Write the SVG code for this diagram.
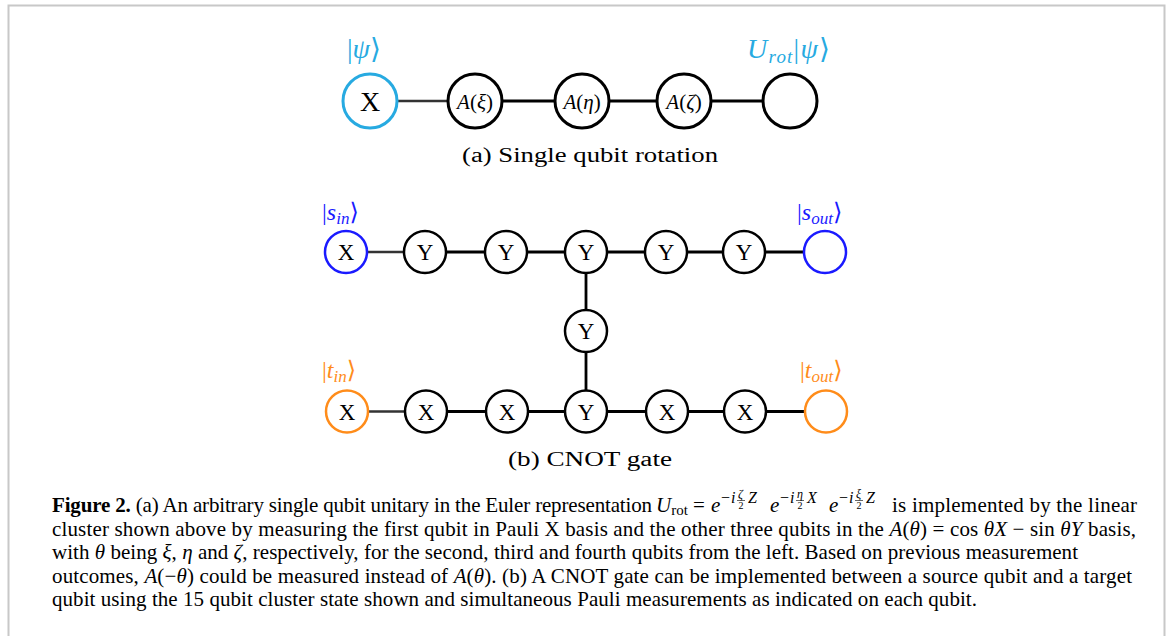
<svg xmlns="http://www.w3.org/2000/svg" width="1169" height="636" viewBox="0 0 1169 636">
<style>
text{font-family:"Liberation Serif","DejaVu Serif",serif;fill:#000}
.it{font-style:italic}
.na{fill:none;stroke:#000;stroke-width:3}
.nb{fill:none;stroke:#000;stroke-width:2.5}
.cyan{stroke:#27aae1}
.blue{stroke:#1a1aff}
.orange{stroke:#ff8c1a}
.lc{fill:#27aae1}
.lb{fill:#1a1aff}
.lo{fill:#ff8c1a}
.e{stroke:#000;stroke-width:3}
.e2{stroke:#000;stroke-width:2.8}
.th{stroke:#333;stroke-width:2.4}
.tl{font-size:28px;text-anchor:middle}
.tm{font-size:21px;text-anchor:middle}
.tb{font-size:23px;text-anchor:middle}
.lab{font-size:28px}
.labb{font-size:24px}
.cap{font-size:21px}
.sup{font-size:16px}
.sub{font-size:20px;text-anchor:middle}
.fb{stroke:#000;stroke-width:0.6}
</style>
<path d="M8.5,636 V5.5 H1164.5 V636" fill="none" stroke="#c8c8c8" stroke-width="2"/>

<g id="connectors">
<line class="th" x1="398" y1="101" x2="447" y2="101"/>
<line class="e" x1="503" y1="101" x2="554" y2="101"/>
<line class="e" x1="610" y1="101" x2="656" y2="101"/>
<line class="e" x1="712" y1="101" x2="762" y2="101"/>
<line class="th" x1="367" y1="252" x2="404" y2="252"/>
<line class="e2" x1="446" y1="252" x2="485" y2="252"/>
<line class="e2" x1="527" y1="252" x2="565" y2="252"/>
<line class="e2" x1="607" y1="252" x2="645" y2="252"/>
<line class="e2" x1="687" y1="252" x2="723" y2="252"/>
<line class="e2" x1="765" y1="252" x2="804" y2="252"/>
<line class="e2" x1="586" y1="273" x2="586" y2="310"/>
<line class="e2" x1="586" y1="352" x2="586" y2="390"/>
<line class="th" x1="368" y1="411.5" x2="405" y2="411.5"/>
<line class="e2" x1="447" y1="411.5" x2="486" y2="411.5"/>
<line class="e2" x1="528" y1="411.5" x2="565" y2="411.5"/>
<line class="e2" x1="607" y1="411.5" x2="646" y2="411.5"/>
<line class="e2" x1="688" y1="411.5" x2="724" y2="411.5"/>
<line class="e2" x1="766" y1="411.5" x2="805" y2="411.5"/>
</g>

<g id="a1"><circle class="na cyan" cx="370" cy="101" r="27"/><text class="tl" x="370" y="110.5">X</text>
<text class="lab lc" x="347" y="58">|<tspan class="it">ψ</tspan>⟩</text></g>
<g id="a2"><circle class="na" cx="475" cy="101" r="27"/><text class="tm" x="475" y="108.5"><tspan class="it">A</tspan>(<tspan class="it">ξ</tspan>)</text></g>
<g id="a3"><circle class="na" cx="582" cy="101" r="27"/><text class="tm" x="582" y="108.5"><tspan class="it">A</tspan>(<tspan class="it">η</tspan>)</text></g>
<g id="a4"><circle class="na" cx="684" cy="101" r="27"/><text class="tm" x="684" y="108.5"><tspan class="it">A</tspan>(<tspan class="it">ζ</tspan>)</text></g>
<g id="a5"><circle class="na" cx="790" cy="101" r="27"/>
<text class="lab lc" x="747" y="58" textLength="83" lengthAdjust="spacing"><tspan class="it">U</tspan><tspan class="it" font-size="19" dy="5">rot</tspan><tspan dy="-5">|</tspan><tspan class="it">ψ</tspan>⟩</text></g>
<text id="caption-a" class="sub" x="590" y="162" textLength="256" lengthAdjust="spacingAndGlyphs">(a) Single qubit rotation</text>

<g id="s1"><circle class="nb blue" cx="346" cy="252" r="21"/><text class="tb" x="346" y="260">X</text>
<text class="labb lb" x="322" y="220">|<tspan class="it">s</tspan><tspan class="it" font-size="17" dy="4">in</tspan><tspan dy="-4">⟩</tspan></text></g>
<g id="s2"><circle class="nb" cx="425" cy="252" r="21"/><text class="tb" x="425" y="260">Y</text></g>
<g id="s3"><circle class="nb" cx="506" cy="252" r="21"/><text class="tb" x="506" y="260">Y</text></g>
<g id="s4"><circle class="nb" cx="586" cy="252" r="21"/><text class="tb" x="586" y="260">Y</text></g>
<g id="s5"><circle class="nb" cx="666" cy="252" r="21"/><text class="tb" x="666" y="260">Y</text></g>
<g id="s6"><circle class="nb" cx="744" cy="252" r="21"/><text class="tb" x="744" y="260">Y</text></g>
<g id="s7"><circle class="nb blue" cx="825" cy="252" r="21"/>
<text class="labb lb" x="797" y="220">|<tspan class="it">s</tspan><tspan class="it" font-size="17" dy="4">out</tspan><tspan dy="-4">⟩</tspan></text></g>
<g id="m"><circle class="nb" cx="586" cy="331" r="21"/><text class="tb" x="586" y="339">Y</text></g>
<g id="t1"><circle class="nb orange" cx="347" cy="411.5" r="21"/><text class="tb" x="347" y="419.5">X</text>
<text class="labb lo" x="322" y="378">|<tspan class="it">t</tspan><tspan class="it" font-size="17" dy="4">in</tspan><tspan dy="-4">⟩</tspan></text></g>
<g id="t2"><circle class="nb" cx="426" cy="411.5" r="21"/><text class="tb" x="426" y="419.5">X</text></g>
<g id="t3"><circle class="nb" cx="507" cy="411.5" r="21"/><text class="tb" x="507" y="419.5">X</text></g>
<g id="t4"><circle class="nb" cx="586" cy="411.5" r="21"/><text class="tb" x="586" y="419.5">Y</text></g>
<g id="t5"><circle class="nb" cx="667" cy="411.5" r="21"/><text class="tb" x="667" y="419.5">X</text></g>
<g id="t6"><circle class="nb" cx="745" cy="411.5" r="21"/><text class="tb" x="745" y="419.5">X</text></g>
<g id="t7"><circle class="nb orange" cx="826" cy="411.5" r="21"/>
<text class="labb lo" x="800" y="378">|<tspan class="it">t</tspan><tspan class="it" font-size="17" dy="4">out</tspan><tspan dy="-4">⟩</tspan></text></g>
<text id="caption-b" class="sub" x="590" y="466" textLength="164" lengthAdjust="spacingAndGlyphs">(b) CNOT gate</text>

<g id="figure-caption">
<text class="cap" x="52" y="512" textLength="600" lengthAdjust="spacing"><tspan font-weight="bold">Figure 2.</tspan> (a) An arbitrary single qubit unitary in the Euler representation</text>
<text class="cap" x="656" y="512"><tspan class="it">U</tspan><tspan font-size="15" dy="3">rot</tspan><tspan dy="-3"> = </tspan></text>
<text class="cap it" x="711" y="512">e</text>
<text class="sup" x="721" y="503">−<tspan class="it" dx="1">i</tspan></text>
<text font-size="12" class="it" x="738" y="497.5">ζ</text><line class="fb" x1="737" y1="500.5" x2="745" y2="500.5"/><text font-size="10" x="738.5" y="509">2</text>
<text class="sup it" x="748" y="503">Z</text>
<text class="cap it" x="770" y="512">e</text>
<text class="sup" x="780" y="503">−<tspan class="it" dx="1">i</tspan></text>
<text font-size="12" class="it" x="797" y="497.5">η</text><line class="fb" x1="796" y1="500.5" x2="804" y2="500.5"/><text font-size="10" x="797.5" y="509">2</text>
<text class="sup it" x="807" y="503">X</text>
<text class="cap it" x="829" y="512">e</text>
<text class="sup" x="839" y="503">−<tspan class="it" dx="1">i</tspan></text>
<text font-size="12" class="it" x="856" y="497.5">ξ</text><line class="fb" x1="855" y1="500.5" x2="863" y2="500.5"/><text font-size="10" x="856.5" y="509">2</text>
<text class="sup it" x="866" y="503">Z</text>
<text class="cap" x="892" y="512" textLength="245" lengthAdjust="spacing">is implemented by the linear</text>
<text class="cap" x="52" y="535.5" textLength="1084" lengthAdjust="spacing">cluster shown above by measuring the first qubit in Pauli X basis and the other three qubits in the <tspan class="it">A</tspan>(<tspan class="it">θ</tspan>) = cos <tspan class="it">θX</tspan> − sin <tspan class="it">θY</tspan> basis,</text>
<text class="cap" x="52" y="559" textLength="1026" lengthAdjust="spacing">with <tspan class="it">θ</tspan> being <tspan class="it">ξ</tspan>, <tspan class="it">η</tspan> and <tspan class="it">ζ</tspan>, respectively, for the second, third and fourth qubits from the left. Based on previous measurement</text>
<text class="cap" x="52" y="582.5" textLength="1080" lengthAdjust="spacing">outcomes, <tspan class="it">A</tspan>(−<tspan class="it">θ</tspan>) could be measured instead of <tspan class="it">A</tspan>(<tspan class="it">θ</tspan>). (b) A CNOT gate can be implemented between a source qubit and a target</text>
<text class="cap" x="52" y="606" textLength="925" lengthAdjust="spacing">qubit using the 15 qubit cluster state shown and simultaneous Pauli measurements as indicated on each qubit.</text>
</g>
</svg>
